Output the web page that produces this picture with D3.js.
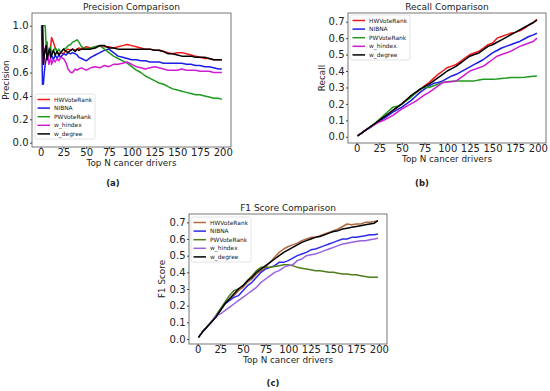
<!DOCTYPE html>
<html>
<head>
<meta charset="utf-8">
<script src="https://cdn.jsdelivr.net/npm/d3@7"></script>
<style>
  body { margin: 0; background: #fff; }
  text { font-family: "DejaVu Sans", sans-serif; fill: #222; }
</style>
</head>
<body>
<div id="chart"></div>
<script>
// series names, shared by the three panels
var names = ["HWVoteRank", "NIBNA", "PWVoteRank", "w_hindex", "w_degree"];

// (a) precision
var precN = [1,2,3,4,5,6,7,8,9,10,11,12,14,16,18,20,22,25,28,30,33,35,38,40,42,45,50,55,60,65,70,75,80,85,90,95,100,105,110,115,120,125,130,135,140,145,150,155,160,165,170,175,180,185,190,195,199];
var precHW = [1.0,1.0,0.67,0.75,0.8,0.83,0.86,0.75,0.78,0.8,0.82,0.9,0.86,0.81,0.78,0.75,0.77,0.76,0.79,0.8,0.79,0.8,0.79,0.8,0.81,0.8,0.82,0.81,0.82,0.83,0.82,0.82,0.81,0.82,0.83,0.84,0.83,0.82,0.81,0.8,0.8,0.79,0.79,0.78,0.77,0.76,0.77,0.77,0.76,0.75,0.74,0.73,0.72,0.72,0.71,0.71,0.71];
var precNIBNA = [1.0,0.5,0.5,0.6,0.67,0.71,0.75,0.78,0.8,0.8,0.73,0.75,0.71,0.75,0.72,0.75,0.73,0.76,0.75,0.77,0.76,0.77,0.76,0.75,0.73,0.72,0.7,0.73,0.75,0.77,0.79,0.8,0.77,0.74,0.73,0.72,0.71,0.71,0.7,0.7,0.69,0.69,0.69,0.68,0.68,0.68,0.68,0.68,0.67,0.67,0.66,0.66,0.65,0.65,0.64,0.63,0.63];
var precPW = [1.0,1.0,1.0,1.0,1.0,0.83,0.86,0.75,0.78,0.8,0.82,0.75,0.79,0.81,0.78,0.8,0.77,0.8,0.81,0.83,0.84,0.86,0.87,0.88,0.86,0.82,0.8,0.81,0.82,0.83,0.8,0.77,0.74,0.72,0.7,0.68,0.65,0.62,0.6,0.57,0.55,0.53,0.51,0.5,0.48,0.46,0.45,0.44,0.43,0.42,0.41,0.41,0.4,0.39,0.38,0.38,0.37];
var precHindex = [1.0,1.0,0.67,0.75,0.8,0.83,0.71,0.75,0.67,0.7,0.73,0.67,0.71,0.69,0.72,0.7,0.73,0.72,0.68,0.63,0.6,0.6,0.63,0.62,0.63,0.64,0.62,0.64,0.65,0.64,0.66,0.65,0.67,0.67,0.68,0.69,0.67,0.65,0.64,0.63,0.64,0.65,0.64,0.63,0.62,0.62,0.62,0.63,0.62,0.62,0.62,0.61,0.61,0.61,0.6,0.6,0.6];
var precDegree = [1.0,1.0,0.67,0.75,0.8,0.83,0.71,0.75,0.78,0.8,0.73,0.75,0.79,0.75,0.78,0.75,0.77,0.8,0.78,0.77,0.79,0.8,0.78,0.8,0.79,0.8,0.8,0.8,0.81,0.83,0.83,0.81,0.81,0.8,0.8,0.8,0.8,0.8,0.8,0.8,0.8,0.79,0.79,0.78,0.76,0.76,0.75,0.74,0.74,0.74,0.73,0.73,0.73,0.72,0.71,0.71,0.71];

// (b) recall and (c) F1 share these N values
var stepN = [1,5,10,15,20,25,30,35,40,45,50,55,60,65,70,75,80,85,90,95,100,105,110,115,120,125,130,135,140,145,150,155,160,165,170,175,180,185,190,195,199];
var recHW = [0.005,0.02,0.04,0.06,0.075,0.1,0.12,0.14,0.16,0.18,0.2,0.225,0.245,0.265,0.285,0.31,0.33,0.355,0.38,0.4,0.42,0.43,0.44,0.46,0.48,0.5,0.51,0.52,0.54,0.56,0.57,0.6,0.61,0.62,0.63,0.635,0.645,0.66,0.68,0.695,0.715];
var recNIBNA = [0.005,0.02,0.04,0.055,0.075,0.095,0.11,0.13,0.15,0.165,0.18,0.2,0.22,0.245,0.27,0.29,0.31,0.325,0.33,0.34,0.355,0.37,0.38,0.395,0.41,0.425,0.44,0.455,0.47,0.49,0.51,0.525,0.54,0.55,0.56,0.57,0.58,0.595,0.61,0.62,0.63];
var recPW = [0.005,0.02,0.04,0.06,0.08,0.105,0.13,0.155,0.18,0.185,0.2,0.22,0.24,0.265,0.29,0.3,0.3,0.31,0.32,0.33,0.335,0.338,0.34,0.34,0.34,0.34,0.34,0.345,0.35,0.35,0.35,0.352,0.355,0.357,0.36,0.36,0.36,0.362,0.365,0.368,0.37];
var recHindex = [0.005,0.02,0.04,0.06,0.075,0.09,0.1,0.115,0.13,0.15,0.17,0.185,0.2,0.215,0.235,0.255,0.27,0.29,0.31,0.33,0.333,0.335,0.34,0.36,0.38,0.4,0.41,0.42,0.43,0.45,0.47,0.49,0.5,0.51,0.52,0.535,0.55,0.56,0.57,0.58,0.6];
var recDegree = [0.005,0.02,0.04,0.06,0.08,0.1,0.12,0.14,0.16,0.18,0.2,0.225,0.25,0.27,0.29,0.305,0.32,0.34,0.36,0.38,0.4,0.415,0.43,0.45,0.47,0.49,0.5,0.51,0.53,0.55,0.56,0.575,0.59,0.605,0.62,0.635,0.65,0.665,0.68,0.695,0.71];

var f1HW = [0.01,0.04,0.07,0.1,0.13,0.17,0.21,0.24,0.26,0.29,0.31,0.34,0.36,0.39,0.41,0.43,0.46,0.49,0.52,0.54,0.555,0.565,0.575,0.59,0.6,0.61,0.61,0.62,0.63,0.64,0.65,0.66,0.675,0.69,0.685,0.69,0.69,0.7,0.7,0.705,0.71];
var f1NIBNA = [0.01,0.04,0.07,0.1,0.13,0.17,0.21,0.23,0.25,0.26,0.29,0.32,0.34,0.37,0.4,0.42,0.43,0.44,0.46,0.46,0.47,0.485,0.5,0.51,0.52,0.535,0.54,0.55,0.56,0.57,0.58,0.59,0.6,0.6,0.61,0.61,0.615,0.62,0.625,0.625,0.63];
var f1PW = [0.01,0.04,0.07,0.1,0.14,0.18,0.22,0.26,0.29,0.3,0.32,0.35,0.38,0.41,0.43,0.43,0.43,0.435,0.44,0.445,0.445,0.44,0.43,0.425,0.42,0.415,0.41,0.41,0.405,0.4,0.4,0.395,0.39,0.39,0.385,0.385,0.38,0.375,0.37,0.37,0.37];
var f1Hindex = [0.01,0.04,0.07,0.1,0.14,0.15,0.17,0.19,0.21,0.23,0.25,0.27,0.29,0.31,0.34,0.36,0.38,0.4,0.41,0.43,0.44,0.445,0.47,0.48,0.5,0.505,0.51,0.52,0.53,0.54,0.55,0.56,0.57,0.575,0.58,0.585,0.59,0.59,0.595,0.6,0.605];
var f1Degree = [0.01,0.04,0.07,0.1,0.13,0.17,0.21,0.24,0.27,0.3,0.32,0.35,0.37,0.4,0.42,0.44,0.46,0.48,0.5,0.52,0.535,0.55,0.565,0.58,0.59,0.6,0.61,0.615,0.625,0.635,0.645,0.65,0.66,0.665,0.67,0.675,0.68,0.685,0.69,0.695,0.71];

var xTicks = [0,25,50,75,100,125,150,175,200];
var precTicks = [0,0.2,0.4,0.6,0.8,1.0];
var scoreTicks = [0,0.1,0.2,0.3,0.4,0.5,0.6,0.7];

var colorsAB = ["#f01818", "#1c1ce8", "#1e9a1e", "#d21ad2", "#000000"];
var colorsC = ["#b0683c", "#2a2af0", "#4e7d1c", "#9862e0", "#000000"];

var svg = d3.select("#chart").append("svg")
    .attr("width", 550)
    .attr("height", 391)

function drawPanel(p) {
    var g = svg.append("g")

    var x = d3.scaleLinear().domain([-9.5, 209]).range([p.left, p.right])
    var y = d3.scaleLinear().domain(p.yDomain).range([p.bottom, p.top])

    g.append("g")
        .attr("transform", "translate(0," + p.bottom + ")")
        .call(d3.axisBottom(x).tickValues(xTicks).tickSize(2).tickPadding(0))
        .call(a => a.select(".domain").remove())
        .selectAll("text").attr("font-size", 10).attr("fill", "#222")

    g.append("g")
        .attr("transform", "translate(" + p.left + ",0)")
        .call(d3.axisLeft(y).tickValues(p.yTicks).tickFormat(d3.format(".1f")).tickSize(2).tickPadding(1.5))
        .call(a => a.select(".domain").remove())
        .selectAll("text").attr("font-size", 10).attr("fill", "#222")

    g.selectAll(".tick line").attr("stroke", "#444")

    var line = d3.line()
        .x(d => x(d[0]))
        .y(d => y(d[1]))

    // drawing order puts w_degree on top, as in the reference
    p.series.forEach(function(vals, i) {
        g.append("path")
            .datum(p.n.map((n, j) => [n, vals[j]]))
            .attr("fill", "none")
            .attr("stroke", p.colors[i])
            .attr("stroke-width", 1.5)
            .attr("stroke-linejoin", "round")
            .attr("d", line)
    })

    g.append("rect")
        .attr("x", p.left).attr("y", p.top)
        .attr("width", p.right - p.left).attr("height", p.bottom - p.top)
        .attr("fill", "none").attr("stroke", "#555").attr("stroke-width", 0.8)

    g.append("text")
        .attr("x", (p.left + p.right) / 2).attr("y", p.top - 6)
        .attr("text-anchor", "middle").attr("dy", "0.35em")
        .attr("font-size", 9)
        .text(p.title)

    g.append("text")
        .attr("x", (p.left + p.right) / 2).attr("y", p.bottom + 16)
        .attr("text-anchor", "middle").attr("dy", "0.35em")
        .attr("font-size", 8.8)
        .text("Top N cancer drivers")

    g.append("text")
        .attr("transform", "translate(" + p.ylabX + "," + (p.top + p.bottom) / 2 + ") rotate(-90)")
        .attr("text-anchor", "middle").attr("dy", "0.35em")
        .attr("font-size", 8.8)
        .text(p.ylabel)

    g.append("text")
        .attr("x", p.capX).attr("y", p.capY)
        .attr("text-anchor", "middle").attr("dy", "0.35em")
        .attr("font-family", "Liberation Serif, serif")
        .attr("font-weight", "bold")
        .attr("font-size", 8.5)
        .text(p.caption)

    var lg = g.append("g").attr("transform", "translate(" + p.legX + "," + p.legY + ")")
    lg.append("rect")
        .attr("width", 60).attr("height", 45).attr("rx", 2)
        .attr("fill", "#fff").attr("fill-opacity", 0.85)
        .attr("stroke", "#d0d0d0").attr("stroke-width", 0.6)
    names.forEach(function(name, i) {
        var ly = 5.5 + i * 8.6
        lg.append("line")
            .attr("x1", 2.5).attr("x2", 15).attr("y1", ly).attr("y2", ly)
            .attr("stroke", p.colors[i]).attr("stroke-width", 1.5)
        lg.append("text")
            .attr("x", 19).attr("y", ly).attr("dy", "0.35em")
            .attr("font-size", 5.9)
            .text(name)
    })
}

drawPanel({
    left: 32, right: 231, top: 13, bottom: 147,
    yDomain: [-0.037, 1.109], yTicks: precTicks,
    n: precN, series: [precHW, precNIBNA, precPW, precHindex, precDegree],
    colors: colorsAB,
    title: "Precision Comparison", ylabel: "Precision", ylabX: 6,
    caption: "(a)", capX: 113, capY: 183,
    legX: 35, legY: 94
})

drawPanel({
    left: 348, right: 546, top: 13, bottom: 143,
    yDomain: [-0.038, 0.753], yTicks: scoreTicks,
    n: stepN, series: [recHW, recNIBNA, recPW, recHindex, recDegree],
    colors: colorsAB,
    title: "Recall Comparison", ylabel: "Recall", ylabX: 322,
    caption: "(b)", capX: 422, capY: 183,
    legX: 350, legY: 15
})

drawPanel({
    left: 189, right: 387, top: 214, bottom: 344,
    yDomain: [-0.03, 0.75], yTicks: scoreTicks,
    n: stepN, series: [f1HW, f1NIBNA, f1PW, f1Hindex, f1Degree],
    colors: colorsC,
    title: "F1 Score Comparison", ylabel: "F1 Score", ylabX: 162,
    caption: "(c)", capX: 273, capY: 383,
    legX: 191, legY: 217
})
</script>
</body>
</html>
